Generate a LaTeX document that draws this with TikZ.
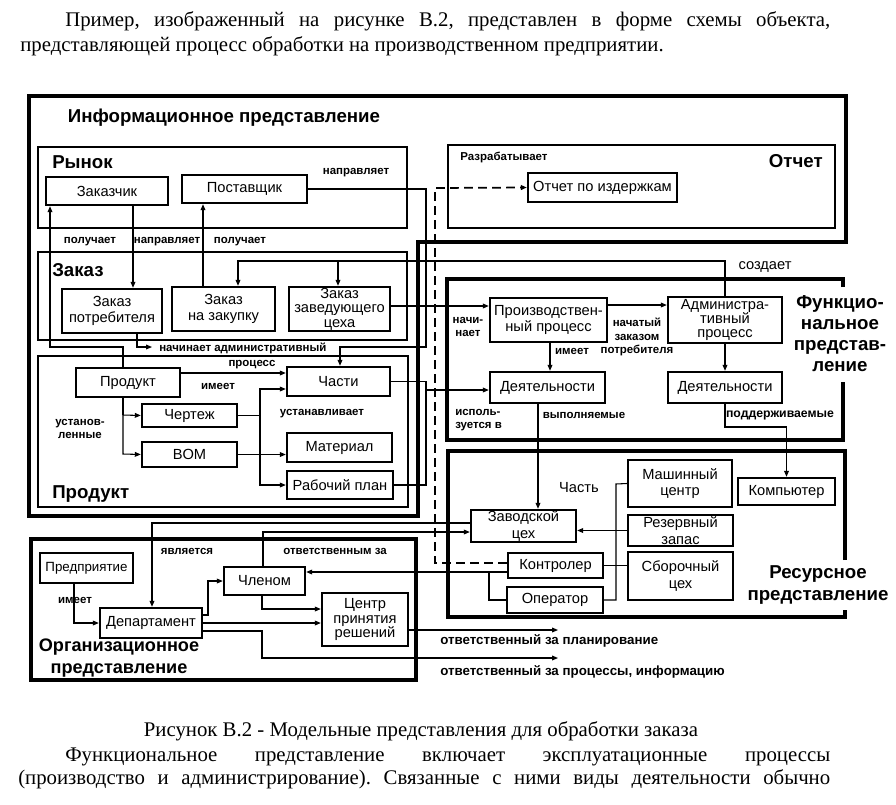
\documentclass[tikz,border=0pt]{standalone}
\usepackage{fontspec}
\setmainfont{Liberation Serif}
\newfontfamily\lsans{Liberation Sans}
\usetikzlibrary{arrows.meta}
\frenchspacing
\newcommand\bxf{\fontsize{11}{12.3}\selectfont\lsans}
\newcommand\bxt{\fontsize{11}{10.8}\selectfont\lsans}
\newcommand\lbf{\fontsize{8.6}{10}\selectfont\lsans\bfseries}
\newcommand\lbg{\fontsize{10}{11}\selectfont\lsans\bfseries}
\newcommand\ttf{\fontsize{14}{16}\selectfont\lsans\bfseries}
\newcommand\txf{\fontsize{15.6}{18}\selectfont}
\newcommand\bx[6]{\node[box, minimum width={(#4-#2)*0.75pt}, minimum height={(#5-#3)*0.75pt}] (#1) at ({(#2+#4)/2},{(#3+#5)/2}) {#6};}
\newcommand\bxx[6]{\node[box, font=\bxt, minimum width={(#4-#2)*0.75pt}, minimum height={(#5-#3)*0.75pt}] (#1) at ({(#2+#4)/2},{(#3+#5)/2}) {#6};}
\begin{document}
\begin{tikzpicture}[x=0.75pt,y=-0.75pt,
  frame/.style={line width=3.6pt},
  cont/.style={line width=1.5pt},
  box/.style={draw, line width=1.8pt, inner sep=0pt, align=center, font=\bxf},
  ln/.style={line width=0.8pt},
  arr/.style={line width=0.8pt, -{Triangle[length=4.5pt,width=3.6pt]}},
  dsh/.style={line width=1.3pt, dash pattern=on 6.5pt off 4pt, -{Triangle[length=4.5pt,width=3.6pt]}},
  lbl/.style={font=\lbf, inner sep=0pt, align=center},
  rlb/.style={font=\bxf, inner sep=0pt, align=center},
  ttl/.style={font=\ttf, inner sep=0pt, align=center},
  txt/.style={font=\txf, inner sep=0pt},
]
\useasboundingbox (0,0) rectangle (896,804);
% ---- surrounding text
\node[txt, anchor=base west] (t1) at (65,26) {\makebox[573.75pt][s]{Пример, изображенный на рисунке В.2, представлен в форме схемы объекта,}};
\node[txt, anchor=base west] (t2) at (20,51) {представляющей процесс обработки на производственном предприятии.};
\node[txt, anchor=base] (t3) at (421,736) {Рисунок В.2 - Модельные представления для обработки заказа};
\node[txt, anchor=base west] (t4) at (65,761) {\makebox[573.75pt][s]{Функциональное представление включает эксплуатационные процессы}};
\node[txt, anchor=base west] (t5) at (18,784) {\makebox[609pt][s]{(производство и администрирование). Связанные с ними виды деятельности обычно}};
% ---- frames
\draw[frame] (29,96) -- (846,96) -- (846,242) -- (418,242) -- (418,516) -- (29,516) -- cycle;
\draw[frame] (843,287) -- (843,279) -- (447,279) -- (447,440) -- (843,440) -- (843,382);
\draw[frame] (845,560) -- (845,451) -- (448,451) -- (448,617) -- (845,617) -- (845,610);
\draw[frame] (31,539) rectangle (416,680);
\draw[cont] (38,147) rectangle (407,228);
\draw[cont] (38,252) rectangle (407,340);
\draw[cont] (38,356) rectangle (408,507);
\draw[cont] (448,145) rectangle (835,228);
% ---- titles
\node[ttl] (T1) at (224,118) {Информационное представление};
\node[ttl, anchor=west] (T2) at (52,162) {Рынок};
\node[ttl, anchor=west] (T3) at (52,270) {Заказ};
\node[ttl, anchor=west] (T4) at (52,494) {Продукт};
\node[ttl, anchor=east] (T5) at (823,161) {Отчет};
\node[ttl, font=\fontsize{14}{15.8}\selectfont\lsans\bfseries] (T6) at (840,334) {Функцио-\\нальное\\представ-\\ление};
\node[ttl, font=\fontsize{14}{16.5}\selectfont\lsans\bfseries] (T7) at (818,585) {Ресурсное\\представление};
\node[ttl, font=\fontsize{13.6}{16.5}\selectfont\lsans\bfseries] (T8) at (119,658) {Организационное\\представление};
% ---- boxes
\bx{zch}{46}{177}{168}{205}{Заказчик}
\bx{pst}{182}{175}{307}{203}{Поставщик}
\bx{zp}{62}{289}{162}{333}{Заказ\\потребителя}
\bx{zz}{172}{287}{275}{331}{Заказ\\на закупку}
\bxx{zc}{289}{287}{390}{331}{Заказ\\заведующего\\цеха}
\bx{prd}{76}{368}{180}{397}{Продукт}
\bx{chs}{287}{367}{390}{396}{Части}
\bx{chr}{142}{404}{237}{427}{Чертеж}
\bx{bom}{142}{442}{237}{467}{BOM}
\bx{mat}{287}{433}{392}{462}{Материал}
\bx{rpl}{287}{471}{393}{499}{Рабочий план}
\bx{otz}{528}{173}{677}{202}{Отчет по издержкам}
\bx{pp}{490}{298}{607}{342}{Производствен-\\ный процесс}
\bxx{ap}{668}{297}{782}{343}{Администра-\\тивный\\процесс}
\bx{d1}{490}{372}{605}{403}{Деятельности}
\bx{d2}{668}{372}{782}{403}{Деятельности}
\bx{mc}{628}{460}{732}{507}{Машинный\\центр}
\bx{rz}{628}{515}{733}{546}{Резервный\\запас}
\bx{sb}{628}{552}{733}{600}{Сборочный\\цех}
\bx{kmp}{738}{478}{835}{505}{Компьютер}
\bx{zv}{471}{510}{576}{542}{Заводской\\цех}
\bx{ktr}{508}{553}{603}{578}{Контролер}
\bx{opr}{507}{587}{603}{613}{Оператор}
\bx{prp}{40}{553}{133}{583}{\fontsize{10}{11}\selectfont Предприятие}
\bx{dep}{100}{608}{202}{638}{Департамент}
\bx{chl}{224}{567}{305}{595}{Членом}
\bxx{cpr}{322}{593}{408}{646}{Центр\\принятия\\решений}
% ---- free ends
\coordinate (e1) at (152,347);
\coordinate (o1) at (558,630);
\coordinate (o2) at (558,658);
% ---- connectors: information view
\draw[arr] (zch.south -| 133,0) -- (zp.north -| 133,0);
\draw[arr] (zz.north -| 203,0) -- (pst.south -| 203,0);
\draw[arr] (prd.north -| 123,0) -- (123,347) -- (50,347) -- (zch.south -| 50,0);
\draw[arr] (pst.east) -- (426,189) -- (426,347) -- (340,347) -- (chs.north -| 340,0);
\draw[arr] (ap.north) -- (725,261) -- (238,261) -- (zz.north -| 238,0);
\draw[arr] (338,261) -- (zc.north -| 338,0);
\draw[arr] (zc.east |- 0,306) -- (pp.west |- 0,306);
\draw[arr] (zp.south -| 137,0) -- (137,347) -- (e1);
\draw[arr] (prd.east |- 0,373) -- (chs.west |- 0,373);
\draw[ln] (prd.south -| 123,0) -- (123,415);
\draw[arr] (123,415) -- (123,454) -- (bom.west);
\draw[arr] (123,415) -- (chr.west);
\draw[ln] (chr.east) -- (260,415.5);
\draw[arr] (260,415.5) -- (260,389) -- (chs.west |- 0,389);
\draw[arr] (260,415.5) -- (260,485) -- (rpl.west);
\draw[arr] (bom.east) -- (bom.east -| mat.west);
\draw[ln] (chs.east) -- (chs.east -| 426,0) -- (rpl.east -| 426,0) -- (rpl.east);
\draw[arr] (426,390) -- (d1.west |- 0,390);
% ---- functional view
\draw[arr] (pp.east |- 0,305) -- (ap.west |- 0,305);
\draw[arr] (pp.south -| 550,0) -- (d1.north -| 550,0);
\draw[arr] (ap.south) -- (d2.north);
\draw[arr] (d1.south -| 538,0) -- (zv.north -| 538,0);
\draw[arr] (d2.south) -- (725,427) -- (786.5,427) -- (kmp.north);
\draw[dsh] (ktr.west |- 0,563) -- (435,563) -- (435,188) -- (otz.west);
% ---- resource view
\draw[arr] (rz.west) -- (rz.west -| zv.east);
\draw[ln] (opr.east) -- (616,600) -- (616,484) -- (mc.west);
\draw[ln] (ktr.east) -- (ktr.east -| sb.west);
\draw[arr] (ktr.west |- 0,572) -- (chl.east |- 0,572);
\draw[ln] (489,572) -- (489,600) -- (opr.west);
\draw[arr] (zv.west |- 0,523) -- (152,523) -- (dep.north -| 152,0);
\draw[arr] (chl.north -| 263,0) -- (263,532) -- (zv.west |- 0,532);
% ---- organisational view
\draw[arr] (prp.south -| 74,0) -- (74,623) -- (dep.west);
\draw[arr] (dep.east |- 0,615) -- (208,615) -- (208,581) -- (chl.west);
\draw[arr] (dep.east) -- (dep.east -| cpr.west);
\draw[arr] (chl.south -| 262,0) -- (262,609) -- (cpr.west |- 0,609);
\draw[arr] (dep.east |- 0,631) -- (262,631) -- (262,658) -- (o2);
\draw[arr] (cpr.east |- 0,630) -- (o1);
% ---- labels
\node[lbl] (a1) at (356,173) {направляет};
\node[lbl] (a2) at (90,242) {получает};
\node[lbl] (a3) at (167,242) {направляет};
\node[lbl] (a4) at (240,242) {получает};
\node[lbl, anchor=west] (a5) at (159,348) {начинает административный};
\node[lbl] (a6) at (252,365) {процесс};
\node[lbl] (a7) at (218,386) {имеет};
\node[lbl] (a8) at (80,429) {установ-\\ленные};
\node[lbl] (a9) at (322,414) {устанавливает};
\node[lbl] (a10) at (504,157) {Разрабатывает};
\node[rlb] (a11) at (765,267) {создает};
\node[lbl] (a12) at (468,327) {начи-\\нает};
\node[lbl] (a13) at (637,337) {начатый\\заказом\\потребителя};
\node[lbl] (a14) at (572,351) {имеет};
\node[lbl, align=left, anchor=west] (a15) at (455,420) {исполь-\\зуется в};
\node[lbl] (a16) at (584,415) {выполняемые};
\node[lbl, font=\fontsize{9.2}{10}\selectfont\lsans\bfseries] (a17) at (780,415) {поддерживаемые};
\node[rlb] (a18) at (579,488) {Часть};
\node[lbl] (a19) at (187,551) {является};
\node[lbl] (a20) at (335,551) {ответственным за};
\node[lbl] (a21) at (75,600) {имеет};
\node[lbl, font=\lbg, anchor=west] (a22) at (440,641) {ответственный за планирование};
\node[lbl, font=\lbg, anchor=west] (a23) at (440,672) {ответственный за процессы, информацию};
\end{tikzpicture}
\end{document}
